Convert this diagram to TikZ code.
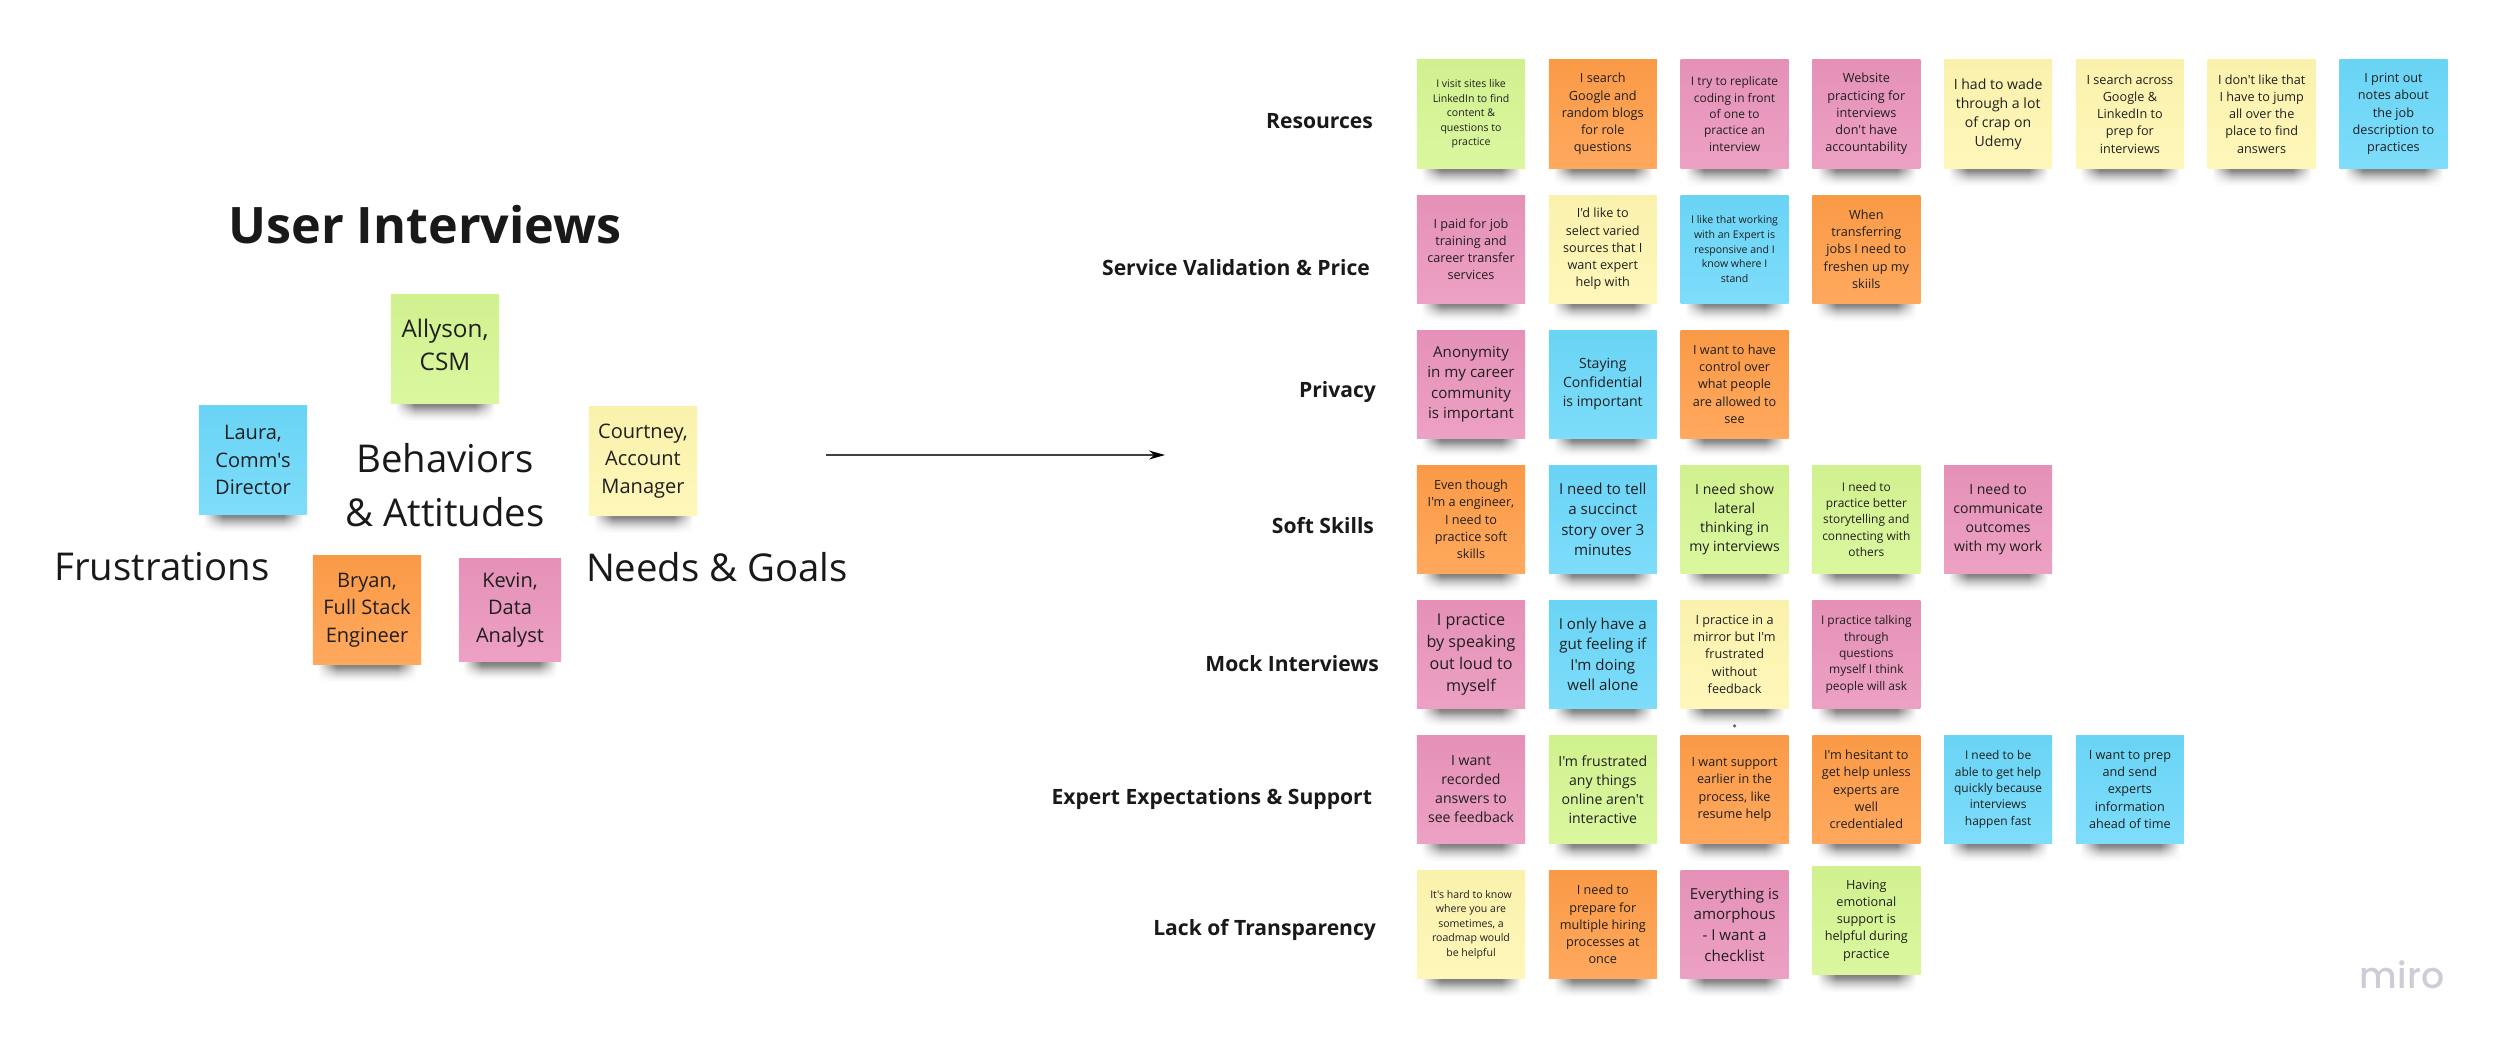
\documentclass[tikz,border=0pt]{standalone}
\usepackage{xcolor}
\usepackage{fontspec}
\newfontfamily\boardfont{Open Sans}
\newfontfamily\mirofont{Poppins}[UprightFont=* Medium]
\AtBeginDocument{\boardfont}
\usetikzlibrary{arrows.meta, positioning, shadows, fadings}
\definecolor{stgreen}{RGB}{213,246,146}
\definecolor{storange}{RGB}{255,157,72}
\definecolor{stpink}{RGB}{234,148,187}
\definecolor{stblue}{RGB}{108,216,250}
\definecolor{styellow}{RGB}{255,246,176}
\definecolor{stlogo}{RGB}{205,205,216}
\pgfdeclareverticalshading{stickyshade}{100bp}{color(0bp)=(white); color(25bp)=(white); color(27bp)=(black!6); color(29.5bp)=(black!22); color(32bp)=(black!45); color(33.3bp)=(black!50); color(100bp)=(black!50)}
\pgfdeclarehorizontalshading{stickymask}{100bp}{color(0bp)=(black); color(27bp)=(black); color(36bp)=(white); color(64bp)=(white); color(73bp)=(black); color(100bp)=(black)}
\tikzfading[name=stickyedge, shading=stickymask]
\begin{document}
\begin{tikzpicture}[x=0.01cm, y=-0.01cm, node distance=0.237cm,
  sticky/.style={rectangle, minimum width=1.08cm, minimum height=1.08cm, inner sep=0pt, outer sep=0pt, align=center, text=black!88,
    top color=#1!98!black, bottom color=#1!88!white,
    general shadow={shading=stickyshade, shading angle=0, path fading=stickyedge, shadow yshift=-0.18cm}},
  tiny1/.style={font=\fontsize{3.0}{4.15}\selectfont},
  tiny2/.style={font=\fontsize{3.4}{4.65}\selectfont},
  tiny3/.style={font=\fontsize{3.6}{4.9}\selectfont},
  tiny4/.style={font=\fontsize{4.0}{5.4}\selectfont},
  tiny5/.style={font=\fontsize{4.3}{5.85}\selectfont},
  tiny6/.style={font=\fontsize{4.6}{6.25}\selectfont},
  person/.style={font=\fontsize{5.7}{7.75}\selectfont},
  theme/.style={font=\fontsize{6.0}{7}\selectfont\bfseries, inner sep=0pt, outer sep=0pt, text height=1.8mm, text depth=0.5mm, text=black!90},
  heading/.style={font=\fontsize{10.9}{15.4}\selectfont, inner sep=0pt, align=center, text=black!90},
  arr/.style={-{Stealth[length=1.6mm, width=0.9mm, black]}, line width=0.4pt, black!75}
]
\useasboundingbox (0,0) rectangle (2500,1047);
% left side
\node[heading, font=\fontsize{14.3}{20}\selectfont\bfseries] (title) at (425,225) {User Interviews};
\node[sticky=stgreen, font=\fontsize{6.9}{9.4}\selectfont, text depth=0.08cm] (allyson) at (445,349) {Allyson,\\CSM};
\node[sticky=stblue, person] (laura) at (253,460) {Laura,\\Comm's\\Director};
\node[sticky=styellow, person] (courtney) at (643,461) {Courtney,\\Account\\Manager};
\node[sticky=storange, person] (bryan) at (367,610) {Bryan,\\Full Stack\\Engineer};
\node[sticky=stpink, person, minimum width=1.02cm, minimum height=1.03cm] (kevin) at (510,610) {Kevin,\\Data\\Analyst};
\node[heading] (behaviors) at (445,485) {Behaviors\\\& Attitudes};
\node[heading] (frustrations) at (162,567) {Frustrations};
\node[heading] (needs) at (717,567) {Needs \& Goals};
\coordinate (arrowstart) at (826,455);
\coordinate (arrowend) at (1165,455);
\draw[arr] (arrowstart) -- (arrowend);
% resources
\node[sticky=stgreen, tiny1] (r1) at (1471,114) {I visit sites like\\LinkedIn to find\\content \&\\questions to\\practice};
\node[sticky=storange, tiny3, right=of r1] (r2) {I search\\Google and\\random blogs\\for role\\questions};
\node[sticky=stpink, tiny2, right=of r2] (r3) {I try to replicate\\coding in front\\of one to\\practice an\\interview};
\node[sticky=stpink, tiny3, right=of r3] (r4) {Website\\practicing for\\interviews\\don't have\\accountability};
\node[sticky=styellow, tiny4, right=of r4] (r5) {I had to wade\\through a lot\\of crap on\\Udemy};
\node[sticky=styellow, tiny3, right=of r5] (r6) {I search across\\Google \&\\LinkedIn to\\prep for\\interviews};
\node[sticky=styellow, tiny3, right=of r6] (r7) {I don't like that\\I have to jump\\all over the\\place to find\\answers};
\node[sticky=stblue, tiny3, right=of r7] (r8) {I print out\\notes about\\the job\\description to\\practices};
% service validation
\node[sticky=stpink, tiny3, below=0.27cm of r1] (v1) {I paid for job\\training and\\career transfer\\services};
\node[sticky=styellow, tiny3, right=of v1] (v2) {I'd like to\\select varied\\sources that I\\want expert\\help with};
\node[sticky=stblue, tiny1, right=of v2] (v3) {I like that working\\with an Expert is\\responsive and I\\know where I\\stand};
\node[sticky=storange, tiny3, right=of v3] (v4) {When\\transferring\\jobs I need to\\freshen up my\\skiils};
% privacy
\node[sticky=stpink, tiny5, below=0.27cm of v1] (p1) {Anonymity\\in my career\\community\\is important};
\node[sticky=stblue, tiny4, right=of p1] (p2) {Staying\\Confidential\\is important};
\node[sticky=storange, tiny3, right=of p2] (p3) {I want to have\\control over\\what people\\are allowed to\\see};
% soft skills
\node[sticky=storange, tiny3, below=0.27cm of p1] (s1) {Even though\\I'm a engineer,\\I need to\\practice soft\\skills};
\node[sticky=stblue, tiny5, right=of s1] (s2) {I need to tell\\a succinct\\story over 3\\minutes};
\node[sticky=stgreen, tiny4, right=of s2] (s3) {I need show\\lateral\\thinking in\\my interviews};
\node[sticky=stgreen, tiny2, right=of s3] (s4) {I need to\\practice better\\storytelling and\\connecting with\\others};
\node[sticky=stpink, tiny4, right=of s4] (s5) {I need to\\communicate\\outcomes\\with my work};
% mock interviews
\node[sticky=stpink, tiny6, below=0.27cm of s1] (m1) {I practice\\by speaking\\out loud to\\myself};
\node[sticky=stblue, tiny5, right=of m1] (m2) {I only have a\\gut feeling if\\I'm doing\\well alone};
\node[sticky=styellow, tiny3, right=of m2] (m3) {I practice in a\\mirror but I'm\\frustrated\\without\\feedback};
\node[sticky=stpink, tiny2, right=of m3] (m4) {I practice talking\\through\\questions\\myself I think\\people will ask};
% expert expectations
\node[sticky=stpink, tiny4, below=0.27cm of m1] (e1) {I want\\recorded\\answers to\\see feedback};
\node[sticky=stgreen, tiny4, right=of e1] (e2) {I'm frustrated\\any things\\online aren't\\interactive};
\node[sticky=storange, tiny3, right=of e2] (e3) {I want support\\earlier in the\\process, like\\resume help};
\node[sticky=storange, tiny3, right=of e3] (e4) {I'm hesitant to\\get help unless\\experts are\\well\\credentialed};
\node[sticky=stblue, tiny2, right=of e4] (e5) {I need to be\\able to get help\\quickly because\\interviews\\happen fast};
\node[sticky=stblue, tiny3, right=of e5] (e6) {I want to prep\\and send\\experts\\information\\ahead of time};
% lack of transparency
\node[sticky=styellow, tiny1, below=0.27cm of e1] (t1) {It's hard to know\\where you are\\sometimes, a\\roadmap would\\be helpful};
\node[sticky=storange, tiny3, right=of t1] (t2) {I need to\\prepare for\\multiple hiring\\processes at\\once};
\node[sticky=stpink, tiny5, right=of t2] (t3) {Everything is\\amorphous\\- I want a\\checklist};
\node[sticky=stgreen, tiny3, right=of t3, yshift=0.04cm] (t4) {Having\\emotional\\support is\\helpful during\\practice};
% themes
\node[theme, left=0.44cm of r1, yshift=-0.075cm] (resources) {Resources};
\node[theme, left=0.47cm of v1, yshift=-0.195cm] (service) {Service Validation \& Price};
\node[theme, left=0.41cm of p1, yshift=-0.065cm] (privacy) {Privacy};
\node[theme, left=0.43cm of s1, yshift=-0.08cm] (soft) {Soft Skills};
\node[theme, left=0.38cm of m1, yshift=-0.11cm] (mock) {Mock Interviews};
\node[theme, left=0.45cm of e1, yshift=-0.085cm] (expert) {Expert Expectations \& Support};
\node[theme, left=0.41cm of t1, yshift=-0.045cm] (lack) {Lack of Transparency};
\node[circle, fill=black!60, inner sep=0.2pt, above=0.07cm of e3] (speck) {};
\node[inner sep=0pt, text=stlogo, font=\fontsize{10.3}{12}\mirofont] (miro) at (2402,975) {miro};
\end{tikzpicture}
\end{document}
